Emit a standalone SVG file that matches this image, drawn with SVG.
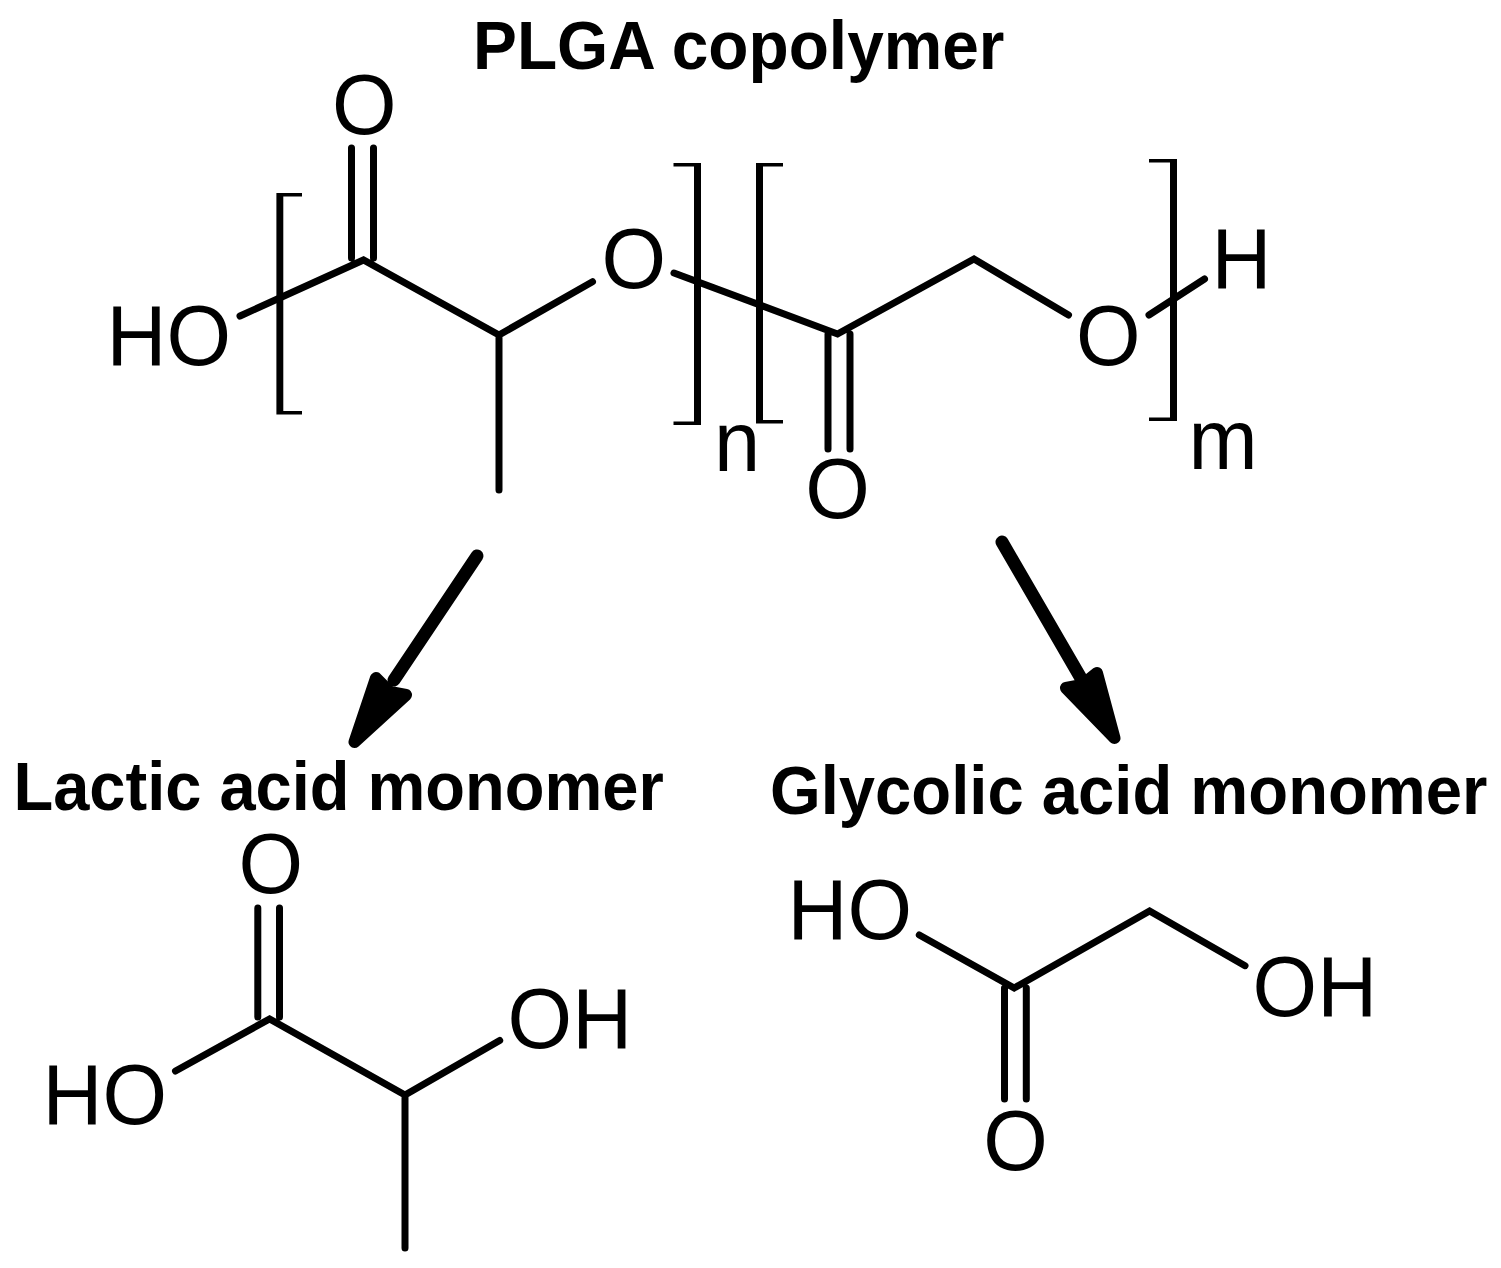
<svg xmlns="http://www.w3.org/2000/svg" width="1501" height="1268" viewBox="0 0 1501 1268">
<style>
.b{fill:none;stroke:#000;stroke-width:7;stroke-linecap:round;stroke-linejoin:miter}
.s{fill:#000;stroke:none}
.t{font-family:"Liberation Sans",Arial,sans-serif;font-size:86px;fill:#000}
.h{font-family:"Liberation Sans",Arial,sans-serif;font-size:68px;font-weight:bold;fill:#000}
.a{fill:none;stroke:#000;stroke-width:13;stroke-linecap:round}
.ah{fill:#000;stroke:#000;stroke-width:12;stroke-linejoin:round}
</style>
<rect width="1501" height="1268" fill="#fff"/>
<g id="plga">
<path class="b" d="M240 316L363.500 260L499 335L592.500 281.700M674 273L837.500 334L974 259L1068.500 315M1149 315L1204.500 279M499 335V490M351.500 148V258M373.500 148V258M828 334V449M850 334V449"/>
<path class="s" d="M276.400 193H302V196.500H283.300V411H302V414.500H276.400Z"/>
<path class="s" d="M673.500 163H701V425H673.500V421.500H694V166.500H673.500Z"/>
<path class="s" d="M783 163H756V423.500H783V420H763V166.500H783Z"/>
<path class="s" d="M1149 159H1177V421H1149V417.500H1170V162.500H1149Z"/>
<text class="h" transform="matrix(.968 0 0 1 473 69)">PLGA copolymer</text>
<text class="t" transform="matrix(.965 0 0 1 332 134)">O</text>
<text class="t" transform="matrix(.965 0 0 1 106.500 364.500)">HO</text>
<text class="t" transform="matrix(.965 0 0 1 601.400 288)">O</text>
<text class="t" transform="matrix(.965 0 0 1 1076 364.700)">O</text>
<text class="t" transform="matrix(.965 0 0 1 1211.500 287.700)">H</text>
<text class="t" transform="matrix(.965 0 0 1 805.200 518.300)">O</text>
<text class="t" transform="matrix(.965 0 0 1 714 470.700)">n</text>
<text class="t" transform="matrix(.965 0 0 1 1188.500 469)">m</text>
</g>
<g id="lactic">
<path class="b" d="M175.500 1071L269.600 1019L405 1095L499.700 1040.500M405 1095V1248M257.800 908V1017M279.500 908V1017"/>
<text class="h" transform="matrix(.956 0 0 1 13.500 810)">Lactic acid monomer</text>
<text class="t" transform="matrix(.965 0 0 1 238.500 892.500)">O</text>
<text class="t" transform="matrix(.965 0 0 1 42.500 1123.700)">HO</text>
<text class="t" transform="matrix(.965 0 0 1 507.600 1047.700)">OH</text>
</g>
<g id="glycolic">
<path class="b" d="M919.300 935L1014.200 988L1149.600 911L1245 965.700M1004.500 988V1099M1026.300 988V1099"/>
<text class="h" transform="matrix(.959 0 0 1 770 814)">Glycolic acid monomer</text>
<text class="t" transform="matrix(.965 0 0 1 787.500 939)">HO</text>
<text class="t" transform="matrix(.965 0 0 1 1252.600 1015.700)">OH</text>
<text class="t" transform="matrix(.965 0 0 1 983.300 1170)">O</text>
</g>
<g id="connectors">
<path class="a" d="M477 556L394 680"/>
<path class="ah" d="M354.500 742L376 678L390 692L406 695Z"/>
<path class="a" d="M1002 542L1082 680"/>
<path class="ah" d="M1114.500 738L1097 673L1082 685L1066 688Z"/>
</g>
</svg>
